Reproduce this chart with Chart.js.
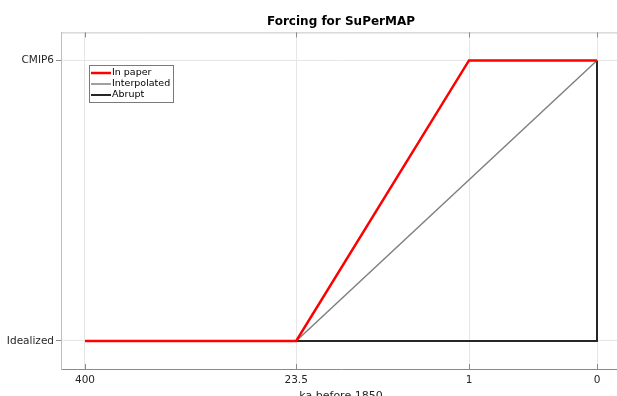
<!DOCTYPE html>
<html>
<head>
<meta charset="utf-8">
<script src="https://cdn.jsdelivr.net/npm/chart.js@4/dist/chart.umd.min.js"></script>
<style>
  html, body { margin: 0; padding: 0; background: #fff; overflow: hidden; }
  #wrap { position: absolute; left: 0; top: 0; width: 640px; height: 420px; }
</style>
</head>
<body>
<div id="wrap"><canvas id="forcing" width="640" height="420"></canvas></div>
<script>
// x axis is piecewise: ka before 1850 mapped to axis units
const xTickValues = [4, 2.35, 1, 0]
const xTickLabels = ['400', '23.5', '1', '0']
const yTickValues = [0, 1]
const yTickLabels = ['Idealized', 'CMIP6']

const paperX = [4, 2.35, 1, 0]
const paperY = [0, 0, 1, 1]
const interpX = [2.35, 0]
const interpY = [0, 1]
const abruptX = [2.35, 0, 0]
const abruptY = [0, 0, 1]

const toPoints = (xs, ys) => xs.map((x, i) => ({x: x, y: ys[i]}))

const FONT = '"DejaVu Sans", sans-serif'

// box top edge, inner x ticks and the inset legend
const boxPlugin = {
  id: 'boxPlugin',
  afterDraw(chart) {
    const ctx = chart.ctx
    const area = chart.chartArea
    const xs = chart.scales.x
    ctx.save()
    ctx.strokeStyle = '#c4c4c4'
    ctx.lineWidth = 1
    ctx.beginPath()
    ctx.moveTo(area.left, area.top + 0.5)
    ctx.lineTo(area.right, area.top + 0.5)
    ctx.stroke()

    ctx.strokeStyle = '#8a8a8a'
    xTickValues.forEach(v => {
      const px = Math.round(xs.getPixelForValue(v)) + 0.5
      ctx.beginPath()
      ctx.moveTo(px, area.bottom)
      ctx.lineTo(px, area.bottom - 5)
      ctx.moveTo(px, area.top)
      ctx.lineTo(px, area.top + 5)
      ctx.stroke()
    })

    // legend
    const lx = 89, ly = 65, lw = 84, lh = 37
    ctx.fillStyle = '#fff'
    ctx.fillRect(lx, ly, lw, lh)
    ctx.strokeStyle = '#7a7a7a'
    ctx.strokeRect(lx + 0.5, ly + 0.5, lw, lh)
    ctx.font = '9.5px ' + FONT
    ctx.textBaseline = 'middle'
    chart.data.datasets.forEach((ds, i) => {
      const yy = ly + 8 + i * 11
      ctx.strokeStyle = ds.borderColor
      ctx.lineWidth = ds.borderWidth
      ctx.beginPath()
      ctx.moveTo(lx + 2, yy)
      ctx.lineTo(lx + 22, yy)
      ctx.stroke()
      ctx.fillStyle = '#000'
      ctx.fillText(ds.label, lx + 23, yy)
    })
    ctx.restore()
  }
}

new Chart(document.getElementById('forcing'), {
  type: 'line',
  data: {
    datasets: [
      {
        label: 'In paper',
        data: toPoints(paperX, paperY),
        borderColor: '#ff0000',
        borderWidth: 2.5
      },
      {
        label: 'Interpolated',
        data: toPoints(interpX, interpY),
        borderColor: '#808080',
        borderWidth: 1.5
      },
      {
        label: 'Abrupt',
        data: toPoints(abruptX, abruptY),
        borderColor: '#262626',
        borderWidth: 2
      }
    ]
  },
  options: {
    responsive: false,
    animation: false,
    events: [],
    layout: {padding: {left: 0, right: 19, top: 0, bottom: 0}},
    elements: {
      point: {radius: 0},
      line: {tension: 0, fill: false}
    },
    plugins: {
      legend: {display: false},
      tooltip: {enabled: false},
      title: {
        display: true,
        text: 'Forcing for SuPerMAP',
        fullSize: false,
        color: '#000',
        font: {family: FONT, size: 12, weight: 'bold'},
        padding: {top: 15, bottom: 3}
      }
    },
    scales: {
      x: {
        type: 'linear',
        reverse: true,
        min: -0.1875,
        max: 4.1875,
        afterBuildTicks: axis => {
          axis.ticks = xTickValues.map(v => ({value: v}))
        },
        afterFit: axis => {
          axis.height = 51
        },
        ticks: {
          autoSkip: false,
          maxRotation: 0,
          padding: 5,
          color: '#262626',
          font: {family: FONT, size: 10.5},
          callback: value => xTickLabels[xTickValues.indexOf(value)]
        },
        grid: {color: '#e6e6e6', drawTicks: false},
        border: {color: '#8a8a8a'},
        title: {
          display: true,
          text: 'ka before 1850',
          color: '#262626',
          font: {family: FONT, size: 11},
          padding: {top: 0, bottom: 17}
        }
      },
      y: {
        type: 'linear',
        min: -0.1,
        max: 1.1,
        afterBuildTicks: axis => {
          axis.ticks = yTickValues.map(v => ({value: v}))
        },
        afterFit: axis => {
          axis.width = 61
        },
        ticks: {
          padding: 2,
          color: '#262626',
          font: {family: FONT, size: 10.5},
          callback: value => yTickLabels[yTickValues.indexOf(value)]
        },
        grid: {color: '#e6e6e6', tickColor: '#8a8a8a', tickLength: 5},
        border: {color: '#bdbdbd'}
      }
    }
  },
  plugins: [boxPlugin]
})
</script>
</body>
</html>
